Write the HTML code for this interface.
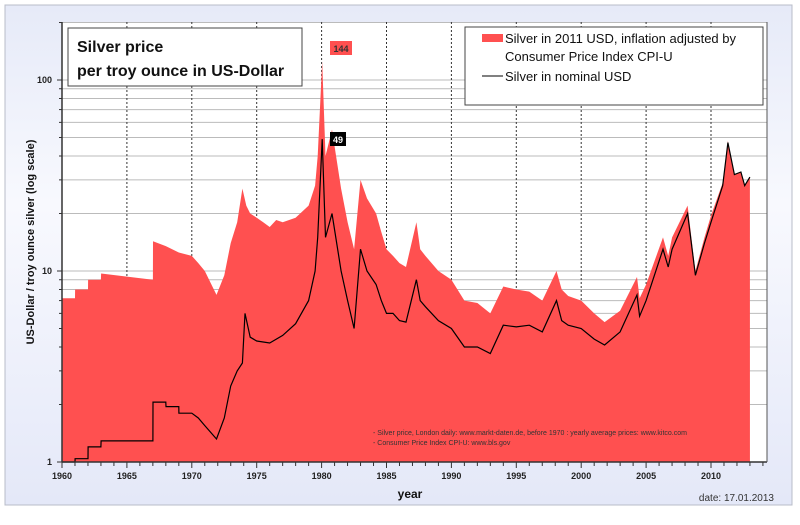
<!DOCTYPE html>
<html><head><meta charset="utf-8"><style>
body{margin:0;width:800px;height:520px;background:#fff;font-family:"Liberation Sans",sans-serif;overflow:hidden}
</style></head><body>
<svg id="c" width="800" height="520" xmlns="http://www.w3.org/2000/svg">
<defs><linearGradient id="bg" x1="0" y1="0" x2="0" y2="1"><stop offset="0" stop-color="#e6eaf8"/><stop offset="0.4" stop-color="#f8f9fe"/><stop offset="1" stop-color="#e4e8f8"/></linearGradient></defs>
<rect x="5" y="5" width="787" height="500" fill="url(#bg)" stroke="#b8bcc8"/>
<rect x="62" y="22" width="705" height="440" fill="#fff"/>
<g id="grid"></g>
<path id="real" fill="#ff5050"/>
<path id="nom" fill="none" stroke="#000" stroke-width="1.2"/>
<g id="axes"></g>
<rect x="68" y="28" width="234" height="58" fill="#fff" stroke="#444"/>
<text x="77" y="52" font-size="16" font-weight="bold" fill="#111">Silver price</text>
<text x="77" y="76" font-size="16" font-weight="bold" fill="#111">per troy ounce in US-Dollar</text>
<rect x="465" y="27" width="298" height="78" fill="#fff" stroke="#444"/>
<rect x="482" y="34" width="21" height="8" fill="#ff5050"/>
<text x="505" y="43" font-size="13" fill="#111">Silver in 2011 USD, inflation adjusted by</text>
<text x="505" y="61" font-size="13" fill="#111">Consumer Price Index CPI-U</text>
<line x1="482" y1="76" x2="503" y2="76" stroke="#000"/>
<text x="505" y="81" font-size="13" fill="#111">Silver in nominal USD</text>
<rect x="330" y="41" width="22" height="14" fill="#ff5050"/>
<text x="341" y="52" font-size="9" font-weight="bold" fill="#333" text-anchor="middle">144</text>
<rect x="330" y="132" width="16" height="14" fill="#000"/>
<text x="338" y="143" font-size="9" font-weight="bold" fill="#fff" text-anchor="middle">49</text>
<text x="373" y="435" font-size="7" fill="#333">- Silver price, London daily: www.markt-daten.de,  before 1970 :  yearly  average prices: www.kitco.com</text>
<text x="373" y="445" font-size="7" fill="#333">- Consumer Price Index CPI-U: www.bls.gov</text>
<text transform="translate(34,242) rotate(-90)" font-size="11" font-weight="bold" text-anchor="middle" fill="#111">US-Dollar / troy ounce silver (log scale)</text>
<text x="410" y="498" font-size="12" font-weight="bold" text-anchor="middle" fill="#111">year</text>
<text x="774" y="501" font-size="10" text-anchor="end" fill="#333">date: 17.01.2013</text>
</svg>
<script>
const realYears=[1960,1961,1961.01,1962,1962.01,1963,1963.01,1967,1967.01,1968,1969,1970,1970.5,1971,1971.9,1972.5,1973,1973.5,1973.9,1974.2,1974.5,1975,1975.5,1976,1976.5,1977,1978,1979,1979.5,1979.7,1980.05,1980.3,1980.8,1981.5,1982,1982.5,1983,1983.5,1984.2,1984.6,1985,1985.5,1986,1986.5,1987.3,1987.6,1988,1989,1990,1991,1992,1993,1994,1995,1996,1997,1998.1,1998.5,1999,2000,2001,2001.8,2003,2004.3,2004.5,2005,2006.3,2006.7,2007,2008.2,2008.8,2009.5,2010,2010.9,2011.3,2011.8,2012.3,2012.6,2013];
const realValues=[7.2,7.2,8.0,8.0,9.0,9.0,9.7,9.0,14.3,13.5,12.5,12,11,10,7.5,9.5,14,18,27,22,20,19,18,17,18.5,18,19,22,28,40,125,40,55,27,18,13,30,24,20,16,13,12,11,10.5,18,13,12,10,9,7,6.8,6.0,8.3,8,7.8,7,10,8,7.4,7,6,5.4,6.2,9.3,7.2,8.5,15,12,15,22,10,15,19.5,29,48,32,33,28,31];
const nomYears=[1960,1961,1961.01,1962,1962.01,1963,1963.01,1967,1967.01,1968,1968.01,1969,1969.01,1970,1970.5,1971,1971.9,1972.5,1973,1973.5,1973.9,1974.1,1974.5,1975,1976,1977,1978,1979,1979.5,1979.7,1980.05,1980.3,1980.8,1981.5,1982,1982.5,1983,1983.5,1984.2,1984.6,1985,1985.5,1986,1986.5,1987.3,1987.6,1988,1989,1990,1991,1992,1993,1994,1995,1996,1997,1998.1,1998.5,1999,2000,2001,2001.8,2003,2004.3,2004.5,2005,2006.3,2006.7,2007,2008.2,2008.8,2009.5,2010,2010.9,2011.3,2011.8,2012.3,2012.6,2013];
const nomValues=[0.91,0.91,1.04,1.04,1.2,1.2,1.29,1.29,2.06,2.06,1.95,1.95,1.8,1.8,1.7,1.55,1.32,1.7,2.5,3.0,3.3,6.0,4.5,4.3,4.2,4.6,5.3,7,10,15,49,15,20,10,7,5,13,10,8.5,7,6,6,5.5,5.4,9,7,6.5,5.5,5,4,4,3.7,5.2,5.1,5.2,4.8,7,5.5,5.2,5.0,4.4,4.1,4.8,7.5,5.8,7.0,13,10.5,13,20,9.5,14,18,28,47,32,33,28,31];
const yTickVals=[1,10,100];
const xTickYears=[1960,1965,1970,1975,1980,1985,1990,1995,2000,2005,2010];
const X=y=>62+(y-1960)*12.98;
const Y=v=>462-Math.log10(v)*191;
const NS='http://www.w3.org/2000/svg';
function mk(p,t,a){const e=document.createElementNS(NS,t);for(const k in a)e.setAttribute(k,a[k]);p.appendChild(e);return e;}
const grid=document.getElementById('grid'),axes=document.getElementById('axes');
for(let d=1;d<=100;d*=10)for(let m=1;m<=9;m++){const v=d*m;if(v<=1||v>220)continue;
 const l=mk(grid,'line',{x1:62,x2:767,y1:Y(v),y2:Y(v),stroke:'#bbbbbb','stroke-width':1});
 
 }
xTickYears.slice(1).forEach(yr=>{const l=mk(grid,'line',{x1:X(yr),x2:X(yr),y1:22,y2:462,stroke:'#333','stroke-dasharray':'2,2'});
 
 });
let d='M'+X(realYears[0])+','+Y(1);
realYears.forEach((yr,i)=>{d+='L'+X(yr).toFixed(1)+','+Y(realValues[i]).toFixed(1);});
d+='L'+X(realYears[realYears.length-1])+','+Y(1)+'Z';
document.getElementById('real').setAttribute('d',d);
let n='';nomYears.forEach((yr,i)=>{const v=Math.max(nomValues[i],0.9);n+=(i?'L':'M')+X(yr).toFixed(1)+','+Math.min(Y(v),462).toFixed(1);});
document.getElementById('nom').setAttribute('d',n);
let a=mk(axes,'line',{x1:62,x2:62,y1:22,y2:462,stroke:'#333','stroke-width':1.5});


a=mk(axes,'line',{x1:62,x2:767,y1:462,y2:462,stroke:'#333','stroke-width':1.5});


a=mk(axes,'line',{x1:767,x2:767,y1:22,y2:462,stroke:'#555'});


for(let d2=1;d2<=100;d2*=10)for(let m=1;m<=9;m++){const v=d2*m;if(v>220)continue;
 const t=mk(axes,'line',{x1:m==1?57:59,x2:62,y1:Y(v),y2:Y(v),stroke:'#333'});
 
 }
yTickVals.forEach(v=>{const t=mk(axes,'text',{x:52,y:Y(v)+3,'font-size':9,'font-weight':'bold','text-anchor':'end',fill:'#222'});t.textContent=v;
 
 });
for(let yr=1960;yr<=2014;yr++){const t=mk(axes,'line',{x1:X(yr),x2:X(yr),y1:462,y2:yr%5?466:468,stroke:'#333'});
 
 }
xTickYears.forEach(yr=>{const t=mk(axes,'text',{x:X(yr),y:479,'font-size':9,'font-weight':'bold','text-anchor':'middle',fill:'#222'});t.textContent=yr;
 
 });
</script>
</body></html>
